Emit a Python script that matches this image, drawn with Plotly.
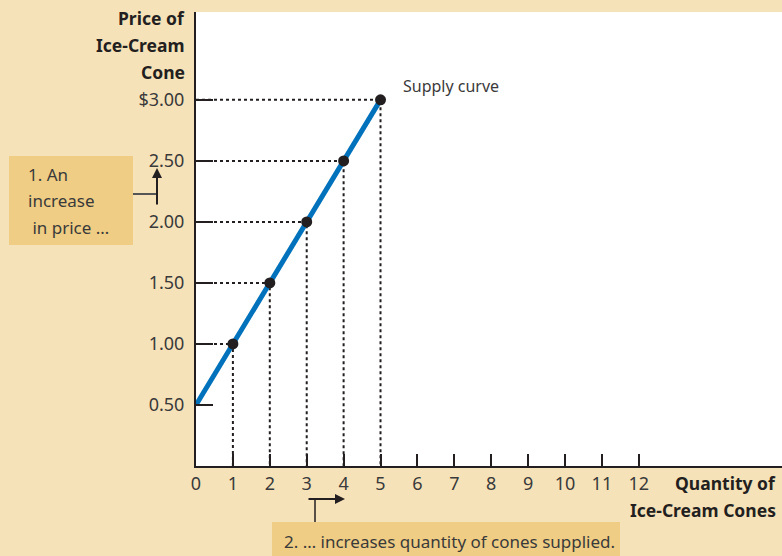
import plotly.graph_objects as go

# supply schedule
quantity = [0, 1, 2, 3, 4, 5]
price = [0.50, 1.00, 1.50, 2.00, 2.50, 3.00]

x_ticks = list(range(0, 13))
y_ticks = [0.5, 1.0, 1.5, 2.0, 2.5, 3.0]
y_tick_text = ["0.50", "1.00", "1.50", "2.00", "2.50", "$3.00"]

y_title = ["Price of", "Ice-Cream", "Cone"]
x_title = ["Quantity of", "Ice-Cream Cones"]
note_1 = ["1. An", "increase", " in price …"]
note_2 = "2. … increases quantity of cones supplied."

BG = "#f6e2b9"
BOX = "#efcd84"
INK = "#231f20"
TXT = "#3a3a3a"
BLUE = "#0072bc"
FONT = "Noto Sans"

W, H = 782, 556
L, R, T, B = 196, 0, 12, 90


def px(x):
    return (x - L) / (W - L - R)


def py(y):
    return (H - B - y) / (H - T - B)


fig = go.Figure()

# dotted guide lines from each point back to both axes
for q, p in zip(quantity[1:], price[1:]):
    fig.add_trace(go.Scatter(x=[0, q, q], y=[p, p, 0], mode="lines",
                             line=dict(color=INK, width=2, dash="dot"),
                             hoverinfo="skip", showlegend=False))

fig.add_trace(go.Scatter(x=quantity, y=price, mode="lines",
                         line=dict(color=BLUE, width=5), showlegend=False))
fig.add_trace(go.Scatter(x=quantity[1:], y=price[1:], mode="markers",
                         marker=dict(color=INK, size=11), showlegend=False))

fig.add_annotation(x=5.55, y=3.11, text="Supply curve", showarrow=False,
                   xanchor="left", yanchor="middle", font=dict(size=16, color=TXT))

# axis titles, one annotation per line to keep the wide line spacing
for i, line in enumerate(y_title):
    fig.add_annotation(xref="paper", yref="paper", x=px(187), y=py(18 + 27 * i),
                       text=f"<b>{line}</b>", showarrow=False,
                       xanchor="right", yanchor="middle", font=dict(size=17.5, color=INK))
for i, line in enumerate(x_title):
    fig.add_annotation(xref="paper", yref="paper", x=px(778), y=py(483 + 27 * i),
                       text=f"<b>{line}</b>", showarrow=False,
                       xanchor="right", yanchor="middle", font=dict(size=17.5, color=INK))

# callout boxes
fig.add_shape(type="rect", xref="paper", yref="paper", x0=px(9), x1=px(133),
              y0=py(245), y1=py(156), fillcolor=BOX, line_width=0, layer="below")
for i, line in enumerate(note_1):
    fig.add_annotation(xref="paper", yref="paper", x=px(26), y=py(174 + 26.5 * i),
                       text=line, showarrow=False,
                       xanchor="left", yanchor="middle", font=dict(size=17, color=TXT))
fig.add_shape(type="line", xref="paper", yref="paper", x0=px(133), x1=px(157),
              y0=py(194), y1=py(194), line=dict(color="#555", width=2))
fig.add_annotation(xref="paper", yref="paper", x=px(157), y=py(168), ax=0, ay=38,
                   text="", showarrow=True,
                   arrowhead=2, arrowsize=1, arrowwidth=2, arrowcolor=INK)

fig.add_shape(type="rect", xref="paper", yref="paper", x0=px(272), x1=px(620),
              y0=py(558), y1=py(522), fillcolor=BOX, line_width=0, layer="below")
fig.add_annotation(xref="paper", yref="paper", x=px(282), y=py(541),
                   text=note_2, showarrow=False,
                   xanchor="left", yanchor="middle", font=dict(size=17, color=TXT))
fig.add_shape(type="line", xref="paper", yref="paper", x0=px(315), x1=px(315),
              y0=py(522), y1=py(499), line=dict(color=INK, width=1.5))
fig.add_annotation(xref="paper", yref="paper", x=px(345), y=py(499), ax=-38, ay=0,
                   text="", showarrow=True,
                   arrowhead=2, arrowsize=1, arrowwidth=2, arrowcolor=INK)

fig.update_xaxes(range=[0, 15.88], tickvals=x_ticks, ticks="inside", ticklen=12,
                 tickwidth=2, tickcolor=INK, showline=True, linecolor=INK, linewidth=2,
                 showgrid=False, zeroline=False, tickfont=dict(size=18, color=TXT))
fig.update_yaxes(range=[0, 3.72], tickvals=y_ticks, ticktext=y_tick_text, ticks="inside",
                 ticklen=17, tickwidth=2, tickcolor=INK, showline=True, linecolor=INK,
                 linewidth=2, showgrid=False, zeroline=False, ticklabelstandoff=6,
                 tickfont=dict(size=18, color=TXT))

fig.update_layout(width=W, height=H, margin=dict(l=L, r=R, t=T, b=B),
                  paper_bgcolor=BG, plot_bgcolor="white",
                  font=dict(family=FONT, color=TXT), showlegend=False)

fig.write_html("out.html", config={"displayModeBar": False},
               post_script="document.body.style.margin='0';")
